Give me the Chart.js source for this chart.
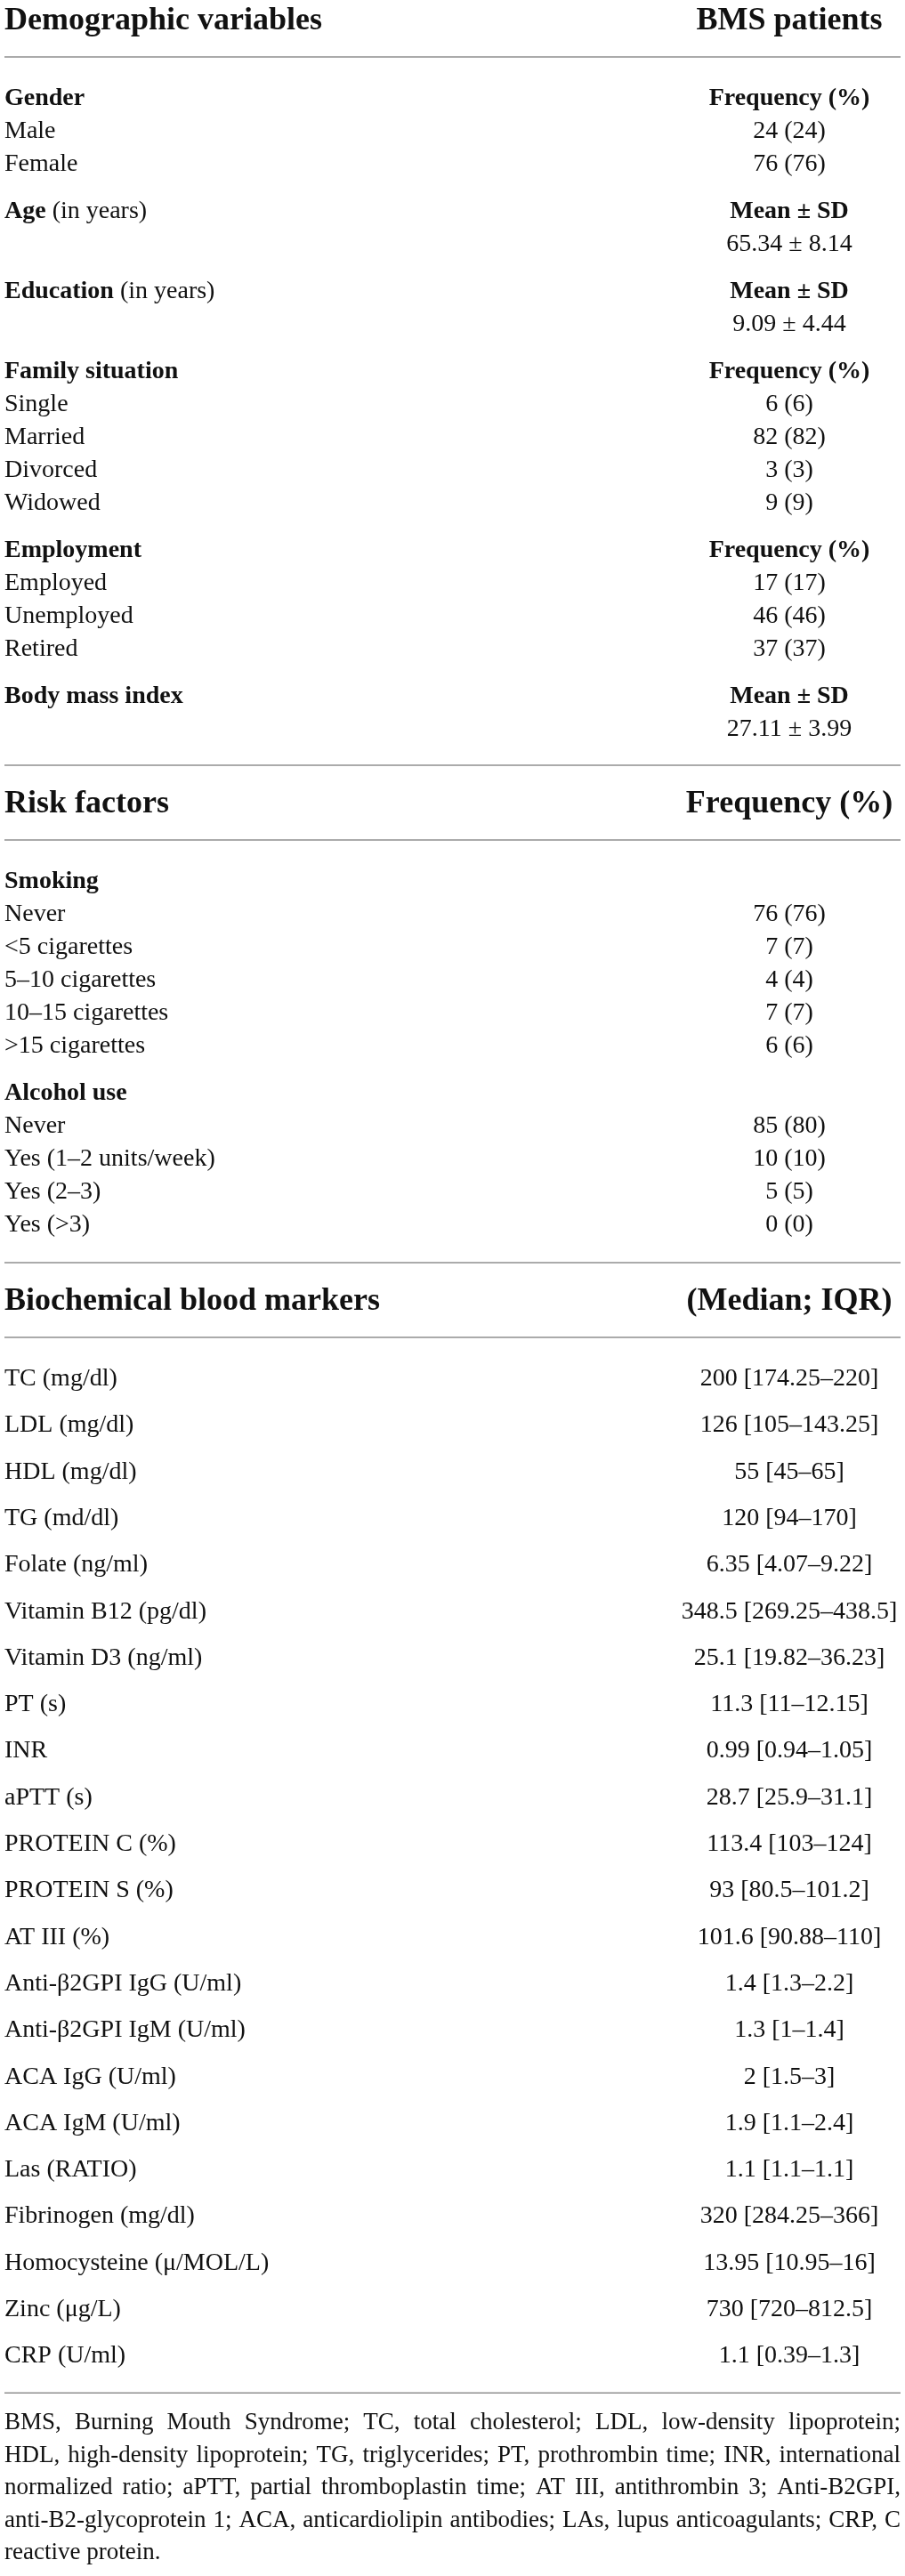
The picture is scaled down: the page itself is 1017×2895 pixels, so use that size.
<!DOCTYPE html>
<html>
<head>
<meta charset="utf-8">
<title>BMS patients - demographic, risk factors and blood markers</title>
<script src="https://cdn.jsdelivr.net/npm/chart.js@4.4.1/dist/chart.umd.min.js"></script>
<style>
    html, body { margin: 0; padding: 0; background: #fff; }
    #wrap { position: relative; width: 1017px; height: 2895px; }
</style>
</head>
<body>
<div id="wrap"><canvas id="tableChart"></canvas></div>
<script>
// ---- table data ----
const genderCats = ['Male', 'Female'];
const genderN = [24, 76];
const genderPct = [24, 76];

const familyCats = ['Single', 'Married', 'Divorced', 'Widowed'];
const familyN = [6, 82, 3, 9];
const familyPct = [6, 82, 3, 9];

const employCats = ['Employed', 'Unemployed', 'Retired'];
const employN = [17, 46, 37];
const employPct = [17, 46, 37];

// mean ± SD rows: Age, Education, Body mass index
const meanVals = [65.34, 9.09, 27.11];
const sdVals = [8.14, 4.44, 3.99];

const smokingCats = ['Never', '<5 cigarettes', '5–10 cigarettes', '10–15 cigarettes', '>15 cigarettes'];
const smokingN = [76, 7, 4, 7, 6];
const smokingPct = [76, 7, 4, 7, 6];

const alcoholCats = ['Never', 'Yes (1–2 units/week)', 'Yes (2–3)', 'Yes (>3)'];
const alcoholN = [85, 10, 5, 0];
const alcoholPct = [80, 10, 5, 0];

const markerCats = ['TC (mg/dl)', 'LDL (mg/dl)', 'HDL (mg/dl)', 'TG (md/dl)', 'Folate (ng/ml)',
    'Vitamin B12 (pg/dl)', 'Vitamin D3 (ng/ml)', 'PT (s)', 'INR', 'aPTT (s)', 'PROTEIN C (%)',
    'PROTEIN S (%)', 'AT III (%)', 'Anti-β2GPI IgG (U/ml)', 'Anti-β2GPI IgM (U/ml)', 'ACA IgG (U/ml)',
    'ACA IgM (U/ml)', 'Las (RATIO)', 'Fibrinogen (mg/dl)', 'Homocysteine (μ/MOL/L)', 'Zinc (μg/L)', 'CRP (U/ml)'];
const markerMedian = [200, 126, 55, 120, 6.35, 348.5, 25.1, 11.3, 0.99, 28.7, 113.4, 93, 101.6, 1.4, 1.3, 2, 1.9, 1.1, 320, 13.95, 730, 1.1];
const markerQ1 = [174.25, 105, 45, 94, 4.07, 269.25, 19.82, 11, 0.94, 25.9, 103, 80.5, 90.88, 1.3, 1, 1.5, 1.1, 1.1, 284.25, 10.95, 720, 0.39];
const markerQ3 = [220, 143.25, 65, 170, 9.22, 438.5, 36.23, 12.15, 1.05, 31.1, 124, 101.2, 110, 2.2, 1.4, 3, 2.4, 1.1, 366, 16, 812.5, 1.3];

const footnoteLines = [
    'BMS, Burning Mouth Syndrome; TC, total cholesterol; LDL, low-density lipoprotein;',
    'HDL, high-density lipoprotein; TG, triglycerides; PT, prothrombin time; INR, international',
    'normalized ratio; aPTT, partial thromboplastin time; AT III, antithrombin 3; Anti-B2GPI,',
    'anti-B2-glycoprotein 1; ACA, anticardiolipin antibodies; LAs, lupus anticoagulants; CRP, C',
    'reactive protein.'
];

// ---- layout ----
const W = 1017, H = 2895;
const LEFT_X = 5, VALUE_X = 887, RULE_END = 1012;
const ROW = 37, BIO_ROW = 52.3, GROUP_GAP = 53, NOTE_ROW = 36.5;
const HEAD_SIZE = 36, BODY_SIZE = 28, NOTE_SIZE = 27;
const FONT = '"Liberation Serif", "Times New Roman", serif';

const leftCells = [];
const valueCells = [];
const noteCells = [];
const rules = [];

function cell(list, x, y, parts, size, align) {
    list.push({ x: x, y: y, parts: parts, size: size, align: align });
}

let y = 33;

function sectionHeader(left, right) {
    cell(leftCells, LEFT_X, y, [{ text: left, bold: true }], HEAD_SIZE, 'left');
    cell(valueCells, VALUE_X, y, [{ text: right, bold: true }], HEAD_SIZE, 'center');
    y += 31;
    rules.push(y);
    y += 54;
}

function freqGroup(title, cats, n, pct, statLabel) {
    cell(leftCells, LEFT_X, y, [{ text: title, bold: true }], BODY_SIZE, 'left');
    if (statLabel) cell(valueCells, VALUE_X, y, [{ text: statLabel, bold: true }], BODY_SIZE, 'center');
    cats.forEach((c, i) => {
        y += ROW;
        cell(leftCells, LEFT_X, y, [{ text: c, bold: false }], BODY_SIZE, 'left');
        cell(valueCells, VALUE_X, y, [{ text: `${n[i]} (${pct[i]})`, bold: false }], BODY_SIZE, 'center');
    });
}

function meanGroup(titleParts, idx) {
    cell(leftCells, LEFT_X, y, titleParts, BODY_SIZE, 'left');
    cell(valueCells, VALUE_X, y, [{ text: 'Mean ± SD', bold: true }], BODY_SIZE, 'center');
    y += ROW;
    cell(valueCells, VALUE_X, y, [{ text: `${meanVals[idx]} ± ${sdVals[idx]}`, bold: false }], BODY_SIZE, 'center');
}

// Demographic block
sectionHeader('Demographic variables', 'BMS patients');
freqGroup('Gender', genderCats, genderN, genderPct, 'Frequency (%)');
y += GROUP_GAP;
meanGroup([{ text: 'Age', bold: true }, { text: ' (in years)', bold: false }], 0);
y += GROUP_GAP;
meanGroup([{ text: 'Education', bold: true }, { text: ' (in years)', bold: false }], 1);
y += GROUP_GAP;
freqGroup('Family situation', familyCats, familyN, familyPct, 'Frequency (%)');
y += GROUP_GAP;
freqGroup('Employment', employCats, employN, employPct, 'Frequency (%)');
y += GROUP_GAP;
meanGroup([{ text: 'Body mass index', bold: true }], 2);
y += 33;
rules.push(y);
y += 53;

// Risk factors block
sectionHeader('Risk factors', 'Frequency (%)');
freqGroup('Smoking', smokingCats, smokingN, smokingPct, null);
y += GROUP_GAP;
freqGroup('Alcohol use', alcoholCats, alcoholN, alcoholPct, null);
y += 35;
rules.push(y);
y += 53;

// Biochemical block
sectionHeader('Biochemical blood markers', '(Median; IQR)');
markerCats.forEach((c, i) => {
    if (i > 0) y += BIO_ROW;
    cell(leftCells, LEFT_X, y, [{ text: c, bold: false }], BODY_SIZE, 'left');
    cell(valueCells, VALUE_X, y, [{ text: `${markerMedian[i]} [${markerQ1[i]}–${markerQ3[i]}]`, bold: false }], BODY_SIZE, 'center');
});
y += 34;
rules.push(y);
y += 41;

footnoteLines.forEach((line, i) => {
    noteCells.push({ x: LEFT_X, y: y + i * NOTE_ROW, parts: [{ text: line, bold: false }], size: NOTE_SIZE,
        align: 'justify', last: i === footnoteLines.length - 1 });
});

// ---- drawing text at the points placed by the scales ----
function fontOf(part, size) {
    return `${part.bold ? 'bold ' : ''}${size}px ${FONT}`;
}

function drawCell(ctx, c, px, py, rightPx) {
    ctx.fillStyle = '#111';
    ctx.textBaseline = 'alphabetic';
    ctx.textAlign = 'left';
    if (c.align === 'justify') {
        ctx.font = fontOf(c.parts[0], c.size);
        const words = c.parts[0].text.split(' ');
        const target = rightPx - px;
        const natural = ctx.measureText(c.parts[0].text).width;
        if (c.last) {
            ctx.fillText(c.parts[0].text, px, py);
            return;
        }
        if (natural > target) {
            ctx.save();
            ctx.translate(px, py);
            ctx.scale(target / natural, 1);
            ctx.fillText(c.parts[0].text, 0, 0);
            ctx.restore();
            return;
        }
        const wordW = words.map(w => ctx.measureText(w).width);
        const gap = (target - wordW.reduce((a, b) => a + b, 0)) / (words.length - 1);
        let cx = px;
        words.forEach((w, i) => {
            ctx.fillText(w, cx, py);
            cx += wordW[i] + gap;
        });
        return;
    }
    let total = 0;
    c.parts.forEach(p => {
        ctx.font = fontOf(p, c.size);
        total += ctx.measureText(p.text).width;
    });
    let cx = c.align === 'center' ? px - total / 2 : px;
    c.parts.forEach(p => {
        ctx.font = fontOf(p, c.size);
        ctx.fillText(p.text, cx, py);
        cx += ctx.measureText(p.text).width;
    });
}

const cellTextPlugin = {
    id: 'cellText',
    afterDatasetsDraw(chart) {
        const ctx = chart.ctx;
        const rightPx = chart.scales.x.getPixelForValue(RULE_END);
        ctx.save();
        chart.data.datasets.forEach((ds, di) => {
            if (!ds.cellText) return;
            const meta = chart.getDatasetMeta(di);
            meta.data.forEach((el, i) => drawCell(ctx, ds.data[i], el.x, el.y, rightPx));
        });
        ctx.restore();
    }
};

const ruleDatasets = rules.map(r => ({
    type: 'line',
    data: [{ x: LEFT_X, y: r }, { x: RULE_END, y: r }],
    borderColor: '#8f8f8f',
    borderWidth: 1.6,
    pointRadius: 0,
    fill: false
}));

function textDataset(list) {
    return {
        type: 'scatter',
        cellText: true,
        data: list,
        pointRadius: 0,
        pointHoverRadius: 0
    };
}

new Chart(document.getElementById('tableChart').getContext('2d'), {
    type: 'scatter',
    data: {
        datasets: [
            ...ruleDatasets,
            textDataset(leftCells),
            textDataset(valueCells),
            textDataset(noteCells)
        ]
    },
    options: {
        responsive: true,
        maintainAspectRatio: false,
        animation: false,
        events: [],
        layout: { padding: 0 },
        plugins: {
            legend: { display: false },
            tooltip: { enabled: false }
        },
        scales: {
            x: { type: 'linear', min: 0, max: W, display: false },
            y: { type: 'linear', min: 0, max: H, reverse: true, display: false }
        }
    },
    plugins: [cellTextPlugin]
});
</script>
</body>
</html>
